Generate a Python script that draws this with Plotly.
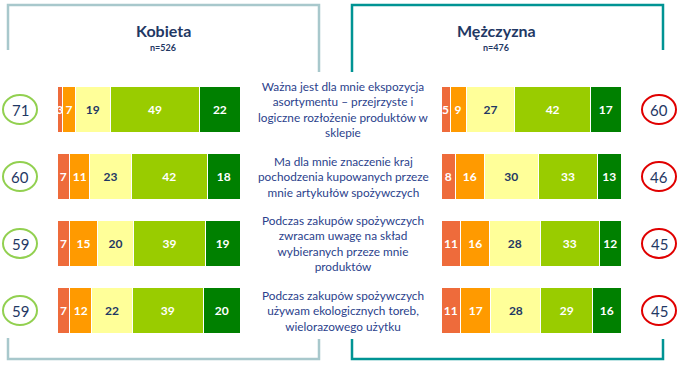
import plotly.graph_objects as go

categories = [
    "Ważna jest dla mnie ekspozycja<br>asortymentu – przejrzyste i<br>logiczne rozłożenie produktów w<br>sklepie",
    "Ma dla mnie znaczenie kraj<br>pochodzenia kupowanych przeze<br>mnie artykułów spożywczych",
    "Podczas zakupów spożywczych<br>zwracam uwagę na skład<br>wybieranych przeze mnie<br>produktów",
    "Podczas zakupów spożywczych<br>używam ekologicznych toreb,<br>wielorazowego użytku",
]
segment_names = ["Zdecydowanie nie", "Raczej nie", "Ani tak, ani nie", "Raczej tak", "Zdecydowanie tak"]

kobieta = [
    [3, 7, 7, 7],
    [7, 11, 15, 12],
    [19, 23, 20, 22],
    [49, 42, 39, 39],
    [22, 18, 19, 20],
]
mezczyzna = [
    [5, 8, 11, 11],
    [9, 16, 16, 17],
    [27, 30, 28, 28],
    [42, 33, 33, 29],
    [17, 13, 12, 16],
]
kobieta_top2 = [71, 60, 59, 59]
mezczyzna_top2 = [60, 46, 45, 45]

group_titles = ["Kobieta", "Mężczyzna"]
group_n = ["n=526", "n=476"]

seg_colors = ["#EE6B3B", "#FF9A00", "#FFFF99", "#99CC00", "#008000"]
label_colors = ["white", "white", "#1F3864", "white", "white"]

W, H = 686, 365
FONT = "Lato"

fig = go.Figure()
for i in range(5):
    for vals, xa in ((kobieta[i], "x"), (mezczyzna[i], "x2")):
        fig.add_trace(go.Bar(
            y=categories, x=vals, orientation="h", xaxis=xa, yaxis="y",
            name=segment_names[i], showlegend=False,
            marker=dict(color=seg_colors[i], line=dict(color="white", width=1)),
            width=0.70,
            text=[str(v) for v in vals], textposition="inside",
            insidetextanchor="middle", constraintext="none",
            textfont=dict(family=FONT, size=12, color=label_colors[i], weight="bold"),
            cliponaxis=False, hoverinfo="skip",
        ))

ytop, ybot = 76, 344
fig.update_layout(
    width=W, height=H, margin=dict(l=0, r=0, t=0, b=0),
    paper_bgcolor="white", plot_bgcolor="white",
    barmode="stack", barnorm="percent", bargap=0.3,
    uniformtext=dict(minsize=12, mode="show"),
    xaxis=dict(domain=[57 / W, 240 / W], range=[0, 100], visible=False, fixedrange=True),
    xaxis2=dict(domain=[441 / W, 621 / W], range=[0, 100], visible=False, fixedrange=True, anchor="y"),
    yaxis=dict(domain=[(H - ybot) / H, (H - ytop) / H], visible=False,
               categoryorder="array", categoryarray=categories,
               range=[3.5, -0.5], fixedrange=True),
    font=dict(family=FONT),
)

ann = []
shapes = []
for j, cat in enumerate(categories):
    ann.append(dict(x=343 / W, xref="paper", y=cat, yref="y", text=cat, showarrow=False,
                    font=dict(family=FONT, size=11.8, color="#2B3F8C"), align="center",
                    xanchor="center", yanchor="middle"))
    for cx, val, col in ((20, kobieta_top2[j], "#92D050"), (659, mezczyzna_top2[j], "#E00000")):
        shapes.append(dict(type="circle", xref="paper", yref="y", xsizemode="pixel", ysizemode="pixel",
                           xanchor=cx / W, yanchor=cat, x0=-17, x1=17, y0=-14.5, y1=14.5,
                           line=dict(color=col, width=2), fillcolor="rgba(0,0,0,0)"))
        ann.append(dict(x=cx / W, xref="paper", y=cat, yref="y", text=str(val), showarrow=False,
                        font=dict(family=FONT, size=15, color="#1F3864"), xanchor="center", yanchor="middle"))

for cx, title, n in ((163, group_titles[0], group_n[0]), (496, group_titles[1], group_n[1])):
    ann.append(dict(x=cx / W, xref="paper", y=1 - 31 / H, yref="paper", text=f"<b>{title}</b>",
                    showarrow=False, font=dict(family=FONT, size=16, color="#1F3864"),
                    xanchor="center", yanchor="middle"))
    ann.append(dict(x=cx / W, xref="paper", y=1 - 47 / H, yref="paper", text=f"<b>{n}</b>",
                    showarrow=False, font=dict(family=FONT, size=9, color="#1F3864"),
                    xanchor="center", yanchor="middle"))


def path_line(pts, color):
    d = "M " + " L ".join(f"{x / W},{1 - y / H}" for x, y in pts)
    return dict(type="path", xref="paper", yref="paper", path=d,
                line=dict(color=color, width=2.5), fillcolor="rgba(0,0,0,0)")


gray, teal = "#A8C8CC", "#009494"
shapes.append(path_line([(8, 50), (8, 5), (319, 5), (319, 72)], gray))
shapes.append(path_line([(352, 72), (352, 5), (663, 5), (663, 50)], teal))
shapes.append(path_line([(8, 338), (8, 359), (319, 359), (319, 339)], gray))
shapes.append(path_line([(352, 339), (352, 359), (663, 359), (663, 339)], teal))

fig.update_layout(annotations=ann, shapes=shapes)
fig.write_html("out.html", config={"displayModeBar": False, "staticPlot": True},
               post_script="document.body.style.margin='0';document.body.style.overflow='hidden';")
